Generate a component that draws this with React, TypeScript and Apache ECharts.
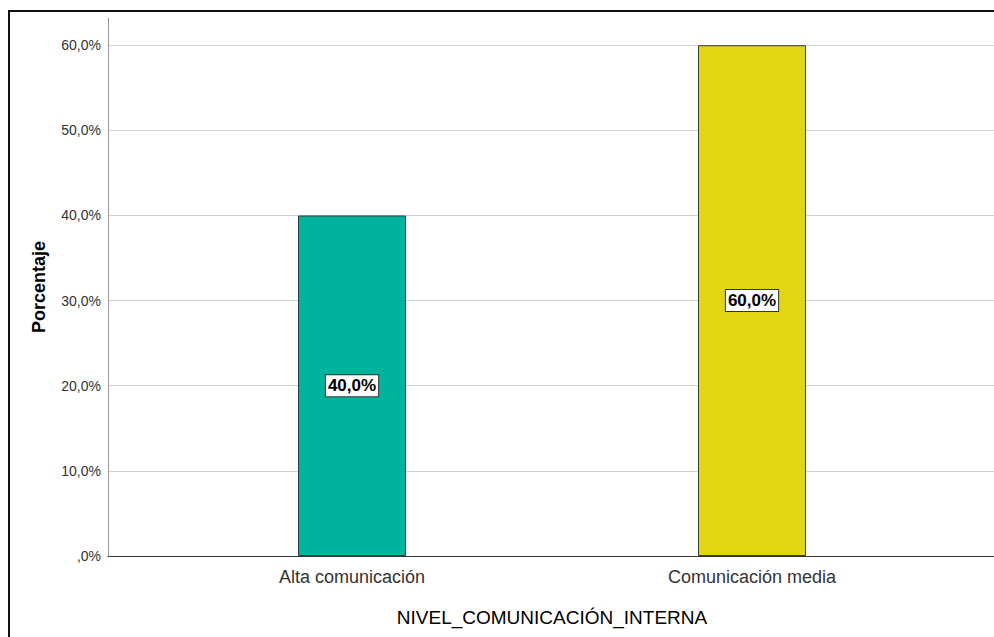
import React, { useEffect, useRef } from "react";
import * as echarts from "echarts";

// Nivel de comunicación interna: porcentaje por categoría
const categories = ["Alta comunicación", "Comunicación media"];
const percentages = [40.0, 60.0];
const barColors = ["#00b39c", "#e2d514"];
const yTicks = [0, 10, 20, 30, 40, 50, 60];

const fmtPct = (v: number) =>
  (v === 0 ? "," + "0" : v.toFixed(1).replace(".", ",")) + "%";

export default function App() {
  const ref = useRef<HTMLDivElement>(null);

  useEffect(() => {
    if (!ref.current) return;
    const chart = echarts.init(ref.current, null, { renderer: "svg" });
    const font = "'Liberation Sans', Arial, sans-serif";
    const yMax = 63.2;

    chart.setOption({
      animation: false,
      backgroundColor: "#ffffff",
      textStyle: { fontFamily: font },
      grid: [
        { left: 108, right: 0, top: 18, bottom: 81 },
        { left: 152, right: 42, top: 18, bottom: 81 },
      ],
      xAxis: [
        {
          gridIndex: 0,
          type: "value",
          min: 0,
          max: 1,
          axisLine: { show: true, lineStyle: { color: "#333333", width: 1 } },
          axisTick: { show: false },
          axisLabel: { show: false },
          splitLine: { show: false },
        },
        {
          gridIndex: 1,
          type: "category",
          data: categories,
          axisLine: { show: false },
          axisTick: { show: false },
          axisLabel: {
            color: "#333333",
            fontSize: 18,
            fontFamily: font,
            margin: 12,
          },
          name: "NIVEL_COMUNICACIÓN_INTERNA",
          nameLocation: "middle",
          nameGap: 52,
          nameTextStyle: { color: "#000000", fontSize: 19, fontFamily: font },
        },
      ],
      yAxis: [
        {
          gridIndex: 0,
          type: "value",
          min: 0,
          max: yMax,
          interval: 10,
          axisLine: { show: true, lineStyle: { color: "#9a9a9a", width: 1 } },
          axisTick: { show: false },
          axisLabel: {
            color: "#333333",
            fontSize: 14,
            fontFamily: font,
            margin: 7,
            showMaxLabel: false,
            formatter: (v: number) => (yTicks.includes(v) ? fmtPct(v) : ""),
          },
          splitLine: {
            show: true,
            showMinLine: false,
            showMaxLine: false,
            lineStyle: { color: "#d2d2d2", width: 1 },
          },
          name: "Porcentaje",
          nameLocation: "middle",
          nameGap: 60,
          nameTextStyle: {
            color: "#000000",
            fontSize: 18,
            fontWeight: "bold",
            fontFamily: font,
          },
        },
        {
          gridIndex: 1,
          type: "value",
          min: 0,
          max: yMax,
          interval: 10,
          show: false,
          splitLine: { show: false },
        },
      ],
      series: [
        {
          type: "bar",
          xAxisIndex: 1,
          yAxisIndex: 1,
          barWidth: 108,
          data: percentages.map((v, i) => ({
            value: v,
            itemStyle: { color: barColors[i] },
          })),
          itemStyle: { borderColor: "#3a3a3a", borderWidth: 1 },
          label: {
            show: true,
            position: "inside",
            formatter: (p: any) => fmtPct(p.value),
            color: "#000000",
            fontSize: 17,
            fontWeight: "bold",
            fontFamily: font,
            backgroundColor: "#ffffff",
            borderColor: "#333333",
            borderWidth: 1,
            padding: [3, 2, 1, 2],
          },
        },
      ],
      graphic: [
        {
          type: "line",
          shape: { x1: 8, y1: 11, x2: 994, y2: 11 },
          style: { stroke: "#111111", lineWidth: 2 },
        },
        {
          type: "line",
          shape: { x1: 9, y1: 10, x2: 9, y2: 637 },
          style: { stroke: "#111111", lineWidth: 2 },
        },
      ],
    });

    return () => chart.dispose();
  }, []);

  return (
    <div
      ref={ref}
      style={{ position: "fixed", left: 0, top: 0, width: 994, height: 637 }}
    />
  );
}
